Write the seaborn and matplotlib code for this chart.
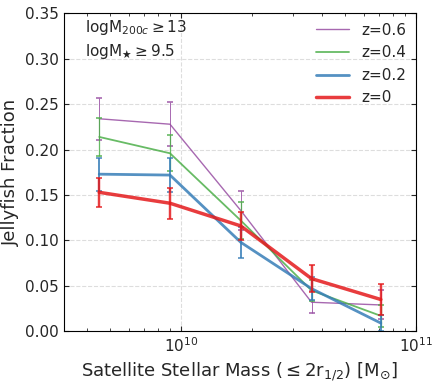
import matplotlib
matplotlib.use("Agg")
import matplotlib.pyplot as plt
import numpy as np
import pandas as pd
import seaborn as sns

# stellar mass bin centres
mass = [4.5e9, 9.0e9, 1.8e10, 3.6e10, 7.1e10]

frac_z06 = [0.234, 0.228, 0.133, 0.032, 0.029]
err_z06 = [0.023, 0.024, 0.021, 0.012, 0.016]
frac_z04 = [0.214, 0.196, 0.122, 0.045, 0.017]
err_z04 = [0.021, 0.020, 0.020, 0.012, 0.012]
frac_z02 = [0.173, 0.172, 0.098, 0.047, 0.009]
err_z02 = [0.018, 0.019, 0.017, 0.013, 0.009]
frac_z0 = [0.153, 0.141, 0.116, 0.058, 0.035]
err_z0 = [0.016, 0.017, 0.015, 0.015, 0.017]

labels = ["z=0.6", "z=0.4", "z=0.2", "z=0"]
colors = ["#984ea3", "#4daf4a", "#377eb8", "#e41a1c"]
widths = [1.0, 1.3, 2.0, 2.5]

fracs = [frac_z06, frac_z04, frac_z02, frac_z0]
errs = [err_z06, err_z04, err_z02, err_z0]

df = pd.concat([pd.DataFrame({"mass": mass, "frac": f, "err": e, "z": lab})
                for f, e, lab in zip(fracs, errs, labels)], ignore_index=True)

sns.set_style("ticks")
plt.rcParams["font.family"] = ["DejaVu Sans"]
fig, ax = plt.subplots(figsize=(4.4, 3.83), dpi=100)

for lab, col, lw in zip(labels, colors, widths):
    d = df[df["z"] == lab]
    sns.lineplot(data=d, x="mass", y="frac", color=col, linewidth=lw,
                 alpha=0.85, label=lab, ax=ax)
    ax.errorbar(d["mass"], d["frac"], yerr=d["err"], fmt="none",
                ecolor=col, elinewidth=lw * 0.7, capsize=2, capthick=1.2, alpha=0.85)

ax.set_xscale("log")
ax.set_xlim(3.18e9, 1e11)
ax.set_ylim(0, 0.35)
ax.set_yticks(np.arange(0, 0.351, 0.05))
ax.grid(True, linestyle="--", color="#dddddd", linewidth=0.8)
ax.tick_params(direction="in", which="both", top=True, right=True, labelsize=11)
for s in ax.spines.values():
    s.set_color("black")

ax.set_xlabel(r"Satellite Stellar Mass ($\leq 2\mathrm{r}_{1/2}$) [M$_{\odot}$]", fontsize=13)
ax.set_ylabel("Jellyfish Fraction", fontsize=13)

ax.text(0.06, 0.985, r"logM$_{200c} \geq 13$", transform=ax.transAxes,
        fontsize=11, va="top")
ax.text(0.06, 0.91, r"logM$_{\bigstar} \geq 9.5$", transform=ax.transAxes,
        fontsize=11, va="top")

ax.legend(loc="upper right", frameon=False, fontsize=11, handlelength=2.2,
          borderaxespad=0.2)

plt.subplots_adjust(left=0.145, right=0.945, top=0.965, bottom=0.135)
plt.savefig("out.png", dpi=100)
plt.close()
